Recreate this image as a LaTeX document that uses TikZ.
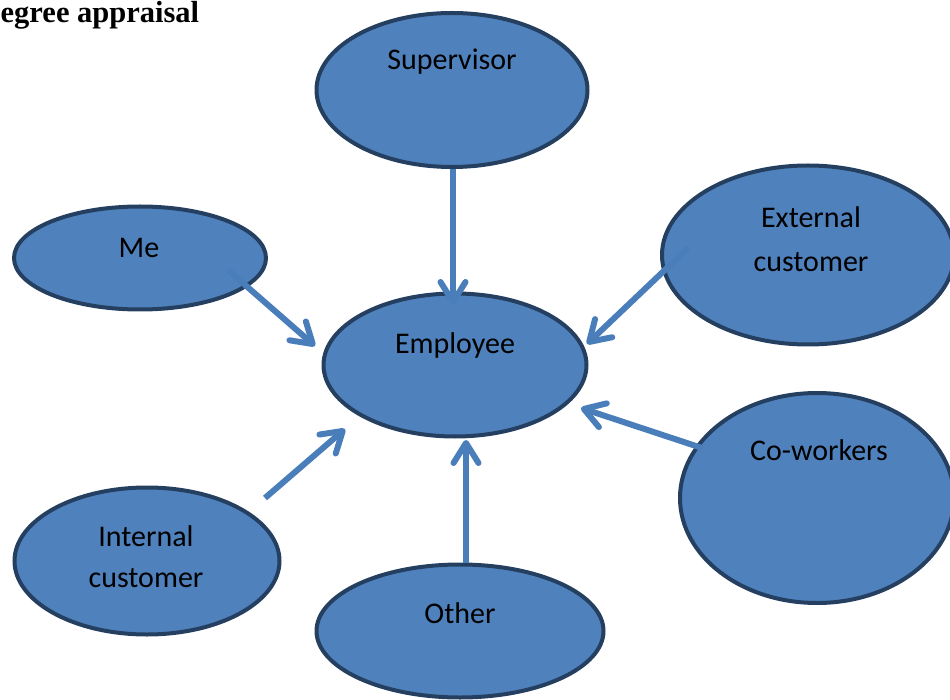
\documentclass[tikz,border=0pt]{standalone}
\usepackage{fontspec}
\setmainfont{Carlito}
\newfontfamily\titlefont{Liberation Serif}
\usetikzlibrary{arrows.meta,shapes.geometric,calc}

\definecolor{bubblefill}{HTML}{4F81BD}
\definecolor{bubbleedge}{HTML}{243F60}
\definecolor{arrowblue}{HTML}{4A7EBB}

\begin{document}
\begin{tikzpicture}[x=1pt,y=-1pt,
  bubble/.style={ellipse, draw=bubbleedge, fill=bubblefill, line width=4pt, inner sep=0pt},
  lbl/.style={anchor=base, inner sep=0pt, font=\fontsize{30}{36}\selectfont},
  flow/.style={draw=arrowblue, line width=6pt,
    -{Straight Barb[length=20pt,width=25pt,round]}}
]
\useasboundingbox (0,0) rectangle (950,700);

% heading
\node[anchor=base west, inner sep=0pt,
      font=\titlefont\bfseries\fontsize{30.5}{36}\selectfont] (title) at (0.5,23) {egree appraisal};

% sources and the central employee
\node[bubble, minimum width=271pt, minimum height=154pt] (sup) at (452,90)  {};
\node[bubble, minimum width=252pt, minimum height=103pt] (me)  at (140,258) {};
\node[bubble, minimum width=292pt, minimum height=179pt] (ext) at (808,255) {};
\node[bubble, minimum width=263pt, minimum height=143pt] (emp) at (455,365) {};
\node[bubble, minimum width=274pt, minimum height=210pt] (cow) at (817,498) {};
\node[bubble, minimum width=265pt, minimum height=147pt] (int) at (147,561) {};
\node[bubble, minimum width=287pt, minimum height=133pt] (oth) at (460,631) {};

% labels
\node[lbl] (supT)  at (452,70)  {Supervisor};
\node[lbl] (meT)   at (139,258) {Me};
\node[lbl] (extT1) at (811,228) {External};
\node[lbl] (extT2) at (811,272) {customer};
\node[lbl] (empT)  at (455,353) {Employee};
\node[lbl] (cowT)  at (819,460) {Co-workers};
\node[lbl] (intT1) at (146,546) {Internal};
\node[lbl] (intT2) at (146,587) {customer};
\node[lbl] (othT)  at (460,623) {Other};

% arrow ends
\coordinate (supTail) at ($(sup.south)+(1,0)$);
\coordinate (supTip)  at ($(emp.center)+(-2,-60)$);
\coordinate (meTail)  at ($(me.center)+(88,12)$);
\coordinate (meTip)   at ($(emp.center)+(-140,-19)$);
\coordinate (extTail) at ($(ext.center)+(-120,-7)$);
\coordinate (extTip)  at ($(emp.center)+(132,-21)$);
\coordinate (cowTail) at ($(cow.center)+(-115,-50)$);
\coordinate (cowTip)  at ($(emp.center)+(126,43)$);
\coordinate (intTail) at ($(int.center)+(118,-63)$);
\coordinate (intTip)  at ($(emp.center)+(-110,64)$);
\coordinate (othTail) at ($(oth.north)+(6,0)$);
\coordinate (othTip)  at ($(emp.center)+(11,75)$);

% feedback arrows towards the employee
\draw[flow] (supTail) -- (supTip);
\draw[flow] (meTail)  -- (meTip);
\draw[flow] (extTail) -- (extTip);
\draw[flow] (cowTail) -- (cowTip);
\draw[flow] (intTail) -- (intTip);
\draw[flow] (othTail) -- (othTip);
\end{tikzpicture}
\end{document}
